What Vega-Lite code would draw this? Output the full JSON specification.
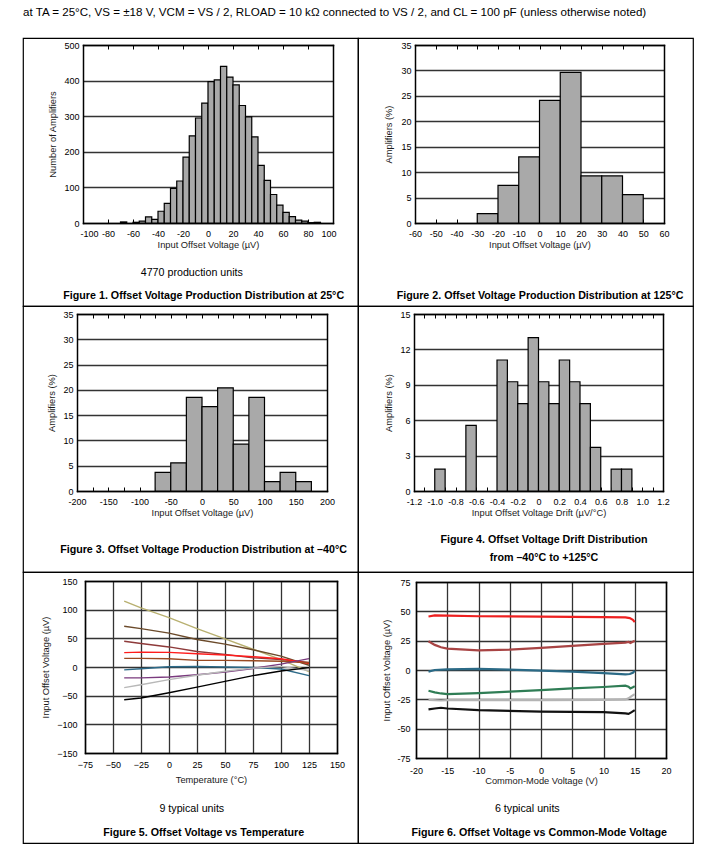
{
  "$schema": "https://vega.github.io/schema/vega-lite/v6.json",
  "padding": {"left": 22, "top": 7, "right": 0, "bottom": 0},
  "title": {"text": "at TA = 25°C, VS = ±18 V, VCM = VS / 2, RLOAD = 10 kΩ connected to VS / 2, and CL = 100 pF (unless otherwise noted)", "anchor": "start", "frame": "group", "offset": 18.5, "fontSize": 11.6, "fontWeight": "normal", "font": "Liberation Sans", "color": "#000"},
  "datasets": {
    "p1": [
      {"lo": -70, "hi": -65, "v": 3}, {"lo": -60, "hi": -55, "v": 2}, {"lo": -55, "hi": -50, "v": 5}, {"lo": -50, "hi": -45, "v": 17},
      {"lo": -45, "hi": -40, "v": 10}, {"lo": -40, "hi": -35, "v": 33}, {"lo": -35, "hi": -30, "v": 55}, {"lo": -30, "hi": -25, "v": 97},
      {"lo": -25, "hi": -20, "v": 118}, {"lo": -20, "hi": -15, "v": 185}, {"lo": -15, "hi": -10, "v": 245}, {"lo": -10, "hi": -5, "v": 295},
      {"lo": -5, "hi": 0, "v": 337}, {"lo": 0, "hi": 5, "v": 397}, {"lo": 5, "hi": 10, "v": 402}, {"lo": 10, "hi": 15, "v": 440},
      {"lo": 15, "hi": 20, "v": 410}, {"lo": 20, "hi": 25, "v": 388}, {"lo": 25, "hi": 30, "v": 330}, {"lo": 30, "hi": 35, "v": 298},
      {"lo": 35, "hi": 40, "v": 242}, {"lo": 40, "hi": 45, "v": 162}, {"lo": 45, "hi": 50, "v": 120}, {"lo": 50, "hi": 55, "v": 80},
      {"lo": 55, "hi": 60, "v": 50}, {"lo": 60, "hi": 65, "v": 30}, {"lo": 65, "hi": 70, "v": 18}, {"lo": 70, "hi": 75, "v": 8},
      {"lo": 75, "hi": 80, "v": 5}, {"lo": 80, "hi": 85, "v": 1}, {"lo": 85, "hi": 90, "v": 2}
    ],
    "p2": [
      {"lo": -30, "hi": -20, "v": 1.85}, {"lo": -20, "hi": -10, "v": 7.4}, {"lo": -10, "hi": 0, "v": 13}, {"lo": 0, "hi": 10, "v": 24.1},
      {"lo": 10, "hi": 20, "v": 29.6}, {"lo": 20, "hi": 30, "v": 9.26}, {"lo": 30, "hi": 40, "v": 9.26}, {"lo": 40, "hi": 50, "v": 5.56}
    ],
    "p3": [
      {"lo": -75, "hi": -50, "v": 3.7}, {"lo": -50, "hi": -25, "v": 5.56}, {"lo": -25, "hi": 0, "v": 18.5}, {"lo": 0, "hi": 25, "v": 16.7},
      {"lo": 25, "hi": 50, "v": 20.4}, {"lo": 50, "hi": 75, "v": 9.26}, {"lo": 75, "hi": 100, "v": 18.5}, {"lo": 100, "hi": 125, "v": 1.85},
      {"lo": 125, "hi": 150, "v": 3.7}, {"lo": 150, "hi": 175, "v": 1.85}
    ],
    "p4": [
      {"lo": -1.0, "hi": -0.9, "v": 1.85}, {"lo": -0.7, "hi": -0.6, "v": 5.56}, {"lo": -0.4, "hi": -0.3, "v": 11.1}, {"lo": -0.3, "hi": -0.2, "v": 9.26},
      {"lo": -0.2, "hi": -0.1, "v": 7.4}, {"lo": -0.1, "hi": 0, "v": 13}, {"lo": 0, "hi": 0.1, "v": 9.26}, {"lo": 0.1, "hi": 0.2, "v": 7.4},
      {"lo": 0.2, "hi": 0.3, "v": 11.1}, {"lo": 0.3, "hi": 0.4, "v": 9.26}, {"lo": 0.4, "hi": 0.5, "v": 7.4}, {"lo": 0.5, "hi": 0.6, "v": 3.7},
      {"lo": 0.7, "hi": 0.8, "v": 1.85}, {"lo": 0.8, "hi": 0.9, "v": 1.85}
    ],
    "p5": [
      {"u": "u1", "t": -40, "v": 115}, {"u": "u1", "t": -25, "v": 103}, {"u": "u1", "t": 0, "v": 86}, {"u": "u1", "t": 25, "v": 67}, {"u": "u1", "t": 50, "v": 49}, {"u": "u1", "t": 75, "v": 31}, {"u": "u1", "t": 100, "v": 13}, {"u": "u1", "t": 125, "v": -8},
      {"u": "u2", "t": -40, "v": 71}, {"u": "u2", "t": -25, "v": 67}, {"u": "u2", "t": 0, "v": 59}, {"u": "u2", "t": 25, "v": 48}, {"u": "u2", "t": 50, "v": 40}, {"u": "u2", "t": 75, "v": 30}, {"u": "u2", "t": 100, "v": 19}, {"u": "u2", "t": 125, "v": 3},
      {"u": "u3", "t": -40, "v": 45}, {"u": "u3", "t": -25, "v": 41}, {"u": "u3", "t": 0, "v": 35}, {"u": "u3", "t": 25, "v": 27}, {"u": "u3", "t": 50, "v": 22}, {"u": "u3", "t": 75, "v": 16}, {"u": "u3", "t": 100, "v": 13}, {"u": "u3", "t": 125, "v": 8},
      {"u": "u4", "t": -40, "v": 25}, {"u": "u4", "t": -25, "v": 26}, {"u": "u4", "t": 0, "v": 25.5}, {"u": "u4", "t": 25, "v": 23}, {"u": "u4", "t": 50, "v": 21}, {"u": "u4", "t": 75, "v": 18}, {"u": "u4", "t": 100, "v": 14.5}, {"u": "u4", "t": 125, "v": 6},
      {"u": "u5", "t": -40, "v": 15}, {"u": "u5", "t": -25, "v": 15}, {"u": "u5", "t": 0, "v": 14.5}, {"u": "u5", "t": 25, "v": 11.6}, {"u": "u5", "t": 50, "v": 11.5}, {"u": "u5", "t": 75, "v": 11}, {"u": "u5", "t": 100, "v": 10}, {"u": "u5", "t": 125, "v": 7.5},
      {"u": "u6", "t": -40, "v": -5}, {"u": "u6", "t": -25, "v": -3}, {"u": "u6", "t": 0, "v": 0.5}, {"u": "u6", "t": 25, "v": 1}, {"u": "u6", "t": 50, "v": 0}, {"u": "u6", "t": 75, "v": -1}, {"u": "u6", "t": 100, "v": -3.5}, {"u": "u6", "t": 125, "v": -15},
      {"u": "u7", "t": -40, "v": -19}, {"u": "u7", "t": -25, "v": -19}, {"u": "u7", "t": 0, "v": -17.5}, {"u": "u7", "t": 25, "v": -13.5}, {"u": "u7", "t": 50, "v": -9}, {"u": "u7", "t": 75, "v": -2.5}, {"u": "u7", "t": 100, "v": 5}, {"u": "u7", "t": 125, "v": 14.5},
      {"u": "u8", "t": -40, "v": -36}, {"u": "u8", "t": -25, "v": -31}, {"u": "u8", "t": 0, "v": -22}, {"u": "u8", "t": 25, "v": -14.5}, {"u": "u8", "t": 50, "v": -7.5}, {"u": "u8", "t": 75, "v": -2}, {"u": "u8", "t": 100, "v": 1}, {"u": "u8", "t": 125, "v": -6},
      {"u": "u9", "t": -40, "v": -57}, {"u": "u9", "t": -25, "v": -54}, {"u": "u9", "t": 0, "v": -45}, {"u": "u9", "t": 25, "v": -35}, {"u": "u9", "t": 50, "v": -25}, {"u": "u9", "t": 75, "v": -15}, {"u": "u9", "t": 100, "v": -7}, {"u": "u9", "t": 125, "v": -1}
    ],
    "p6": [
      {"u": "a", "c": -18, "v": 45.6}, {"u": "a", "c": -17, "v": 46.5}, {"u": "a", "c": -15, "v": 46.3}, {"u": "a", "c": -10, "v": 45.8}, {"u": "a", "c": 0, "v": 45.5}, {"u": "a", "c": 10, "v": 45}, {"u": "a", "c": 13.5, "v": 44.8}, {"u": "a", "c": 14.2, "v": 44.2}, {"u": "a", "c": 14.7, "v": 42.8}, {"u": "a", "c": 15, "v": 40.8},
      {"u": "b", "c": -18, "v": 24.5}, {"u": "b", "c": -17, "v": 21.4}, {"u": "b", "c": -16, "v": 19.4}, {"u": "b", "c": -15, "v": 18.2}, {"u": "b", "c": -10, "v": 16.8}, {"u": "b", "c": -5, "v": 17.4}, {"u": "b", "c": 0, "v": 18.8}, {"u": "b", "c": 5, "v": 20.5}, {"u": "b", "c": 10, "v": 22.2}, {"u": "b", "c": 13.5, "v": 23.4}, {"u": "b", "c": 14, "v": 24}, {"u": "b", "c": 14.3, "v": 23.1}, {"u": "b", "c": 15, "v": 25},
      {"u": "c", "c": -18, "v": -1.4}, {"u": "c", "c": -17, "v": 0}, {"u": "c", "c": -15, "v": 0.6}, {"u": "c", "c": -10, "v": 0.9}, {"u": "c", "c": -5, "v": 0.3}, {"u": "c", "c": 0, "v": -0.6}, {"u": "c", "c": 5, "v": -1.4}, {"u": "c", "c": 10, "v": -2.6}, {"u": "c", "c": 13.5, "v": -3.7}, {"u": "c", "c": 14.2, "v": -3.4}, {"u": "c", "c": 14.7, "v": -2.3}, {"u": "c", "c": 15, "v": -0.6},
      {"u": "d", "c": -18, "v": -17.7}, {"u": "d", "c": -17, "v": -19.1}, {"u": "d", "c": -16, "v": -20}, {"u": "d", "c": -15, "v": -20.5}, {"u": "d", "c": -10, "v": -19.7}, {"u": "d", "c": -5, "v": -18.5}, {"u": "d", "c": 0, "v": -17.1}, {"u": "d", "c": 5, "v": -15.7}, {"u": "d", "c": 10, "v": -14.5}, {"u": "d", "c": 13.5, "v": -13.4}, {"u": "d", "c": 14, "v": -14.3}, {"u": "d", "c": 14.3, "v": -15.7}, {"u": "d", "c": 14.7, "v": -14.8}, {"u": "d", "c": 15, "v": -13.7},
      {"u": "e", "c": -18, "v": -25.4}, {"u": "e", "c": -16, "v": -26}, {"u": "e", "c": -15, "v": -25.7}, {"u": "e", "c": 0, "v": -25.7}, {"u": "e", "c": 10, "v": -25.4}, {"u": "e", "c": 13.5, "v": -25.1}, {"u": "e", "c": 14, "v": -24.2}, {"u": "e", "c": 14.5, "v": -22.2}, {"u": "e", "c": 15, "v": -20.5},
      {"u": "f", "c": -18, "v": -33.6}, {"u": "f", "c": -17, "v": -32.8}, {"u": "f", "c": -16, "v": -32.2}, {"u": "f", "c": -15, "v": -32.8}, {"u": "f", "c": -10, "v": -34.2}, {"u": "f", "c": 0, "v": -35.4}, {"u": "f", "c": 10, "v": -35.9}, {"u": "f", "c": 13.5, "v": -37}, {"u": "f", "c": 14, "v": -37.4}, {"u": "f", "c": 14.5, "v": -35.9}, {"u": "f", "c": 15, "v": -34.2}
    ]
  },
  "concat": [
    {
      "width": 335, "height": 268,
      "data": {"name": "p1"},
      "title": {"text": "4770 production units\u00a0\u00a0\u00a0\u00a0\u00a0\u00a0\u00a0\u00a0\u200b", "subtitle": "Figure 1. Offset Voltage Production Distribution at 25°C", "orient": "bottom", "anchor": "middle", "frame": "group", "offset": -38.3, "dx": 13.2, "fontSize": 10.7, "fontWeight": "normal", "subtitleFontSize": 10.7, "subtitleFontWeight": "bold", "subtitlePadding": 13},
      "layer": [
        {"mark": {"type": "rect", "fill": "#a9a9a9", "stroke": "#000", "strokeWidth": 1.2},
         "encoding": {
           "x": {"field": "lo", "type": "quantitative", "scale": {"domain": [-100, 100], "range": [60, 310], "nice": false, "zero": false},
                 "axis": {"orient": "bottom", "offset": -83, "values": [-100, -80, -60, -40, -20, 0, 20, 40, 60, 80, 100], "tickSize": -4, "labelPadding": 10.4, "labelExpr": "'' + datum.value", "labelFlush": true, "labelFlushOffset": 3, "title": "Input Offset Voltage (µV)", "titlePadding": 1.6, "grid": false}},
           "x2": {"field": "hi"},
           "y": {"field": "v", "type": "quantitative", "scale": {"domain": [0, 500], "range": [185, 7], "nice": false, "zero": false},
                 "axis": {"orient": "left", "offset": -60, "values": [0, 100, 200, 300, 400, 500], "tickSize": 0, "labelPadding": 4, "title": "Number of Amplifiers", "titlePadding": 6, "grid": true}},
           "y2": {"datum": 0}
         }},
        {"mark": {"type": "rect", "opacity": 0},
         "encoding": {
           "x": {"field": "lo", "type": "quantitative", "scale": {"domain": [-100, 100], "range": [60, 310], "nice": false, "zero": false},
                 "axis": {"orient": "top", "offset": -7, "values": [-100, -80, -60, -40, -20, 0, 20, 40, 60, 80, 100], "tickSize": -4, "labels": false, "title": null, "grid": false}},
           "x2": {"field": "hi"},
           "y": {"field": "v", "type": "quantitative", "scale": {"domain": [0, 500], "range": [185, 7], "nice": false, "zero": false},
                 "axis": {"orient": "right", "offset": -25, "ticks": false, "labels": false, "title": null, "grid": false}},
           "y2": {"datum": 0}
         }}
      ],
      "resolve": {"axis": {"x": "independent", "y": "independent"}}
    },
    {
      "width": 335, "height": 268,
      "data": {"name": "p2"},
      "title": {"text": "Figure 2. Offset Voltage Production Distribution at 125°C", "orient": "bottom", "anchor": "middle", "frame": "group", "offset": -14.6, "dx": 14.5, "fontSize": 10.7, "fontWeight": "bold"},
      "layer": [
        {"mark": {"type": "rect", "fill": "#a9a9a9", "stroke": "#000", "strokeWidth": 1.2},
         "encoding": {
           "x": {"field": "lo", "type": "quantitative", "scale": {"domain": [-60, 60], "range": [57, 306], "nice": false, "zero": false},
                 "axis": {"orient": "bottom", "offset": -83, "values": [-60, -50, -40, -30, -20, -10, 0, 10, 20, 30, 40, 50, 60], "tickSize": -4, "labelPadding": 10.4, "labelExpr": "'' + datum.value", "title": "Input Offset Voltage (µV)", "titlePadding": 1.6, "grid": false}},
           "x2": {"field": "hi"},
           "y": {"field": "v", "type": "quantitative", "scale": {"domain": [0, 35], "range": [185, 7], "nice": false, "zero": false},
                 "axis": {"orient": "left", "offset": -57, "values": [0, 5, 10, 15, 20, 25, 30, 35], "tickSize": 0, "labelPadding": 4, "title": "Amplifiers (%)", "titlePadding": 7.4, "grid": true}},
           "y2": {"datum": 0}
         }},
        {"mark": {"type": "rect", "opacity": 0},
         "encoding": {
           "x": {"field": "lo", "type": "quantitative", "scale": {"domain": [-60, 60], "range": [57, 306], "nice": false, "zero": false},
                 "axis": {"orient": "top", "offset": -7, "values": [-60, -50, -40, -30, -20, -10, 0, 10, 20, 30, 40, 50, 60], "tickSize": -4, "labels": false, "title": null, "grid": false}},
           "x2": {"field": "hi"},
           "y": {"field": "v", "type": "quantitative", "scale": {"domain": [0, 35], "range": [185, 7], "nice": false, "zero": false},
                 "axis": {"orient": "right", "offset": -29, "ticks": false, "labels": false, "title": null, "grid": false}},
           "y2": {"datum": 0}
         }}
      ],
      "resolve": {"axis": {"x": "independent", "y": "independent"}}
    },
    {
      "width": 335, "height": 266,
      "data": {"name": "p3"},
      "title": {"text": "Figure 3. Offset Voltage Production Distribution at –40°C", "orient": "bottom", "anchor": "middle", "frame": "group", "offset": -26.6, "dx": 13, "fontSize": 10.7, "fontWeight": "bold"},
      "layer": [
        {"mark": {"type": "rect", "fill": "#a9a9a9", "stroke": "#000", "strokeWidth": 1.2},
         "encoding": {
           "x": {"field": "lo", "type": "quantitative", "scale": {"domain": [-200, 200], "range": [54, 304], "nice": false, "zero": false},
                 "axis": {"orient": "bottom", "offset": -81, "values": [-200, -175, -150, -125, -100, -75, -50, -25, 0, 25, 50, 75, 100, 125, 150, 175, 200], "tickSize": -4, "labelPadding": 10.4, "labelExpr": "datum.value % 50 == 0 ? '' + datum.value : ''", "title": "Input Offset Voltage (µV)", "titlePadding": 1.6, "grid": false}},
           "x2": {"field": "hi"},
           "y": {"field": "v", "type": "quantitative", "scale": {"domain": [0, 35], "range": [185, 8], "nice": false, "zero": false},
                 "axis": {"orient": "left", "offset": -54, "values": [0, 5, 10, 15, 20, 25, 30, 35], "tickSize": 0, "labelPadding": 4, "title": "Amplifiers (%)", "titlePadding": 6, "grid": true}},
           "y2": {"datum": 0}
         }},
        {"mark": {"type": "rect", "opacity": 0},
         "encoding": {
           "x": {"field": "lo", "type": "quantitative", "scale": {"domain": [-200, 200], "range": [54, 304], "nice": false, "zero": false},
                 "axis": {"orient": "top", "offset": -8, "values": [-200, -175, -150, -125, -100, -75, -50, -25, 0, 25, 50, 75, 100, 125, 150, 175, 200], "tickSize": -4, "labels": false, "title": null, "grid": false}},
           "x2": {"field": "hi"},
           "y": {"field": "v", "type": "quantitative", "scale": {"domain": [0, 35], "range": [185, 8], "nice": false, "zero": false},
                 "axis": {"orient": "right", "offset": -31, "ticks": false, "labels": false, "title": null, "grid": false}},
           "y2": {"datum": 0}
         }}
      ],
      "resolve": {"axis": {"x": "independent", "y": "independent"}}
    },
    {
      "width": 335, "height": 266,
      "data": {"name": "p4"},
      "title": {"text": ["Figure 4. Offset Voltage Drift Distribution", "from –40°C to +125°C"], "orient": "bottom", "anchor": "middle", "frame": "group", "offset": -36.6, "dx": 18.5, "fontSize": 10.7, "fontWeight": "bold", "lineHeight": 17.3},
      "layer": [
        {"mark": {"type": "rect", "fill": "#a9a9a9", "stroke": "#000", "strokeWidth": 1.2},
         "encoding": {
           "x": {"field": "lo", "type": "quantitative", "scale": {"domain": [-1.2, 1.2], "range": [56, 305], "nice": false, "zero": false},
                 "axis": {"orient": "bottom", "offset": -81, "values": [-1.2, -1.1, -1, -0.9, -0.8, -0.7, -0.6, -0.5, -0.4, -0.3, -0.2, -0.1, 0, 0.1, 0.2, 0.3, 0.4, 0.5, 0.6, 0.7, 0.8, 0.9, 1, 1.1, 1.2], "tickSize": -4, "labelPadding": 10.4, "labelExpr": "abs(round(datum.value * 10)) % 2 == 0 ? (datum.value == 0 ? '0' : replace(format(datum.value, '.1f'), '−', '-')) : ''", "title": "Input Offset Voltage Drift (µV/°C)", "titlePadding": 1.6, "grid": false}},
           "x2": {"field": "hi"},
           "y": {"field": "v", "type": "quantitative", "scale": {"domain": [0, 15], "range": [185, 8], "nice": false, "zero": false},
                 "axis": {"orient": "left", "offset": -56, "values": [0, 3, 6, 9, 12, 15], "tickSize": 0, "labelPadding": 4, "title": "Amplifiers (%)", "titlePadding": 6.4, "grid": true}},
           "y2": {"datum": 0}
         }},
        {"mark": {"type": "rect", "opacity": 0},
         "encoding": {
           "x": {"field": "lo", "type": "quantitative", "scale": {"domain": [-1.2, 1.2], "range": [56, 305], "nice": false, "zero": false},
                 "axis": {"orient": "top", "offset": -8, "values": [-1.2, -1.1, -1, -0.9, -0.8, -0.7, -0.6, -0.5, -0.4, -0.3, -0.2, -0.1, 0, 0.1, 0.2, 0.3, 0.4, 0.5, 0.6, 0.7, 0.8, 0.9, 1, 1.1, 1.2], "tickSize": -4, "labels": false, "title": null, "grid": false}},
           "x2": {"field": "hi"},
           "y": {"field": "v", "type": "quantitative", "scale": {"domain": [0, 15], "range": [185, 8], "nice": false, "zero": false},
                 "axis": {"orient": "right", "offset": -30, "ticks": false, "labels": false, "title": null, "grid": false}},
           "y2": {"datum": 0}
         }}
      ],
      "resolve": {"axis": {"x": "independent", "y": "independent"}}
    },
    {
      "width": 335, "height": 271,
      "data": {"name": "p5"},
      "title": {"text": "9 typical units\u00a0\u00a0\u00a0\u00a0\u00a0\u00a0\u00a0\u00a0\u200b", "subtitle": "Figure 5. Offset Voltage vs Temperature", "orient": "bottom", "anchor": "middle", "frame": "group", "offset": -38.6, "dx": 13.2, "fontSize": 10.7, "fontWeight": "normal", "subtitleFontSize": 10.7, "subtitleFontWeight": "bold", "subtitlePadding": 13.3},
      "layer": [
        {"mark": {"type": "line", "strokeWidth": 1.4},
         "encoding": {
           "x": {"field": "t", "type": "quantitative", "scale": {"domain": [-75, 150], "range": [62, 314], "nice": false, "zero": false},
                 "axis": {"orient": "bottom", "offset": -90, "values": [-75, -50, -25, 0, 25, 50, 75, 100, 125, 150], "tickSize": 0, "labelPadding": 7, "title": "Temperature (°C)", "titlePadding": 6, "grid": false}},
           "y": {"field": "v", "type": "quantitative", "scale": {"domain": [-150, 150], "range": [181, 9], "nice": false, "zero": false},
                 "axis": {"orient": "left", "offset": -62, "values": [-150, -100, -50, 0, 50, 100, 150], "tickSize": 0, "labelPadding": 8, "title": "Input Offset Voltage (µV)", "titlePadding": 6.4, "grid": true}},
           "color": {"field": "u", "type": "nominal", "legend": null,
                     "scale": {"domain": ["u1", "u2", "u3", "u4", "u5", "u6", "u7", "u8", "u9"], "range": ["#b8b070", "#6b4a2a", "#8e3a3a", "#ff1c1c", "#9a4a22", "#2d6a88", "#7a3a7e", "#b8b8b8", "#000000"]}}
         }},
        {"mark": {"type": "point", "opacity": 0},
         "encoding": {
           "x": {"field": "t", "type": "quantitative", "scale": {"domain": [-75, 150], "range": [62, 314], "nice": false, "zero": false},
                 "axis": {"orient": "top", "offset": -9, "values": [-75, -50, -25, 0, 25, 50, 75, 100, 125, 150], "ticks": false, "labels": false, "title": null, "grid": true}},
           "y": {"field": "v", "type": "quantitative", "scale": {"domain": [-150, 150], "range": [181, 9], "nice": false, "zero": false},
                 "axis": {"orient": "right", "offset": -21, "ticks": false, "labels": false, "title": null, "grid": false}}
         }}
      ],
      "resolve": {"axis": {"x": "independent", "y": "independent"}}
    },
    {
      "width": 335, "height": 271,
      "data": {"name": "p6"},
      "title": {"text": "6 typical units\u00a0\u00a0\u00a0\u00a0\u00a0\u00a0\u00a0\u00a0\u200b", "subtitle": "Figure 6. Offset Voltage vs Common-Mode Voltage", "orient": "bottom", "anchor": "middle", "frame": "group", "offset": -38.6, "dx": 13.7, "fontSize": 10.7, "fontWeight": "normal", "subtitleFontSize": 10.7, "subtitleFontWeight": "bold", "subtitlePadding": 13.3},
      "layer": [
        {"mark": {"type": "line", "strokeWidth": 2.2},
         "encoding": {
           "x": {"field": "c", "type": "quantitative", "scale": {"domain": [-20, 20], "range": [58, 308], "nice": false, "zero": false},
                 "axis": {"orient": "bottom", "offset": -85, "values": [-20, -15, -10, -5, 0, 5, 10, 15, 20], "tickSize": 0, "labelPadding": 8, "labelExpr": "'' + datum.value", "title": "Common-Mode Voltage (V)", "titlePadding": 1, "grid": false}},
           "y": {"field": "v", "type": "quantitative", "scale": {"domain": [-75, 75], "range": [186, 10], "nice": false, "zero": false},
                 "axis": {"orient": "left", "offset": -58, "values": [-75, -50, -25, 0, 25, 50, 75], "tickSize": 0, "labelPadding": 6, "labelExpr": "'' + datum.value", "title": "Input Offset Voltage (µV)", "titlePadding": 5.7, "grid": true}},
           "color": {"field": "u", "type": "nominal", "legend": null,
                     "scale": {"domain": ["a", "b", "c", "d", "e", "f"], "range": ["#ee2020", "#a84444", "#2b6a86", "#2f7d55", "#b4b4b4", "#111111"]}}
         }},
        {"mark": {"type": "point", "opacity": 0},
         "encoding": {
           "x": {"field": "c", "type": "quantitative", "scale": {"domain": [-20, 20], "range": [58, 308], "nice": false, "zero": false},
                 "axis": {"orient": "top", "offset": -10, "values": [-20, -15, -10, -5, 0, 5, 10, 15, 20], "ticks": false, "labels": false, "title": null, "grid": true}},
           "y": {"field": "v", "type": "quantitative", "scale": {"domain": [-75, 75], "range": [186, 10], "nice": false, "zero": false},
                 "axis": {"orient": "right", "offset": -27, "ticks": false, "labels": false, "title": null, "grid": false}}
         }}
      ],
      "resolve": {"axis": {"x": "independent", "y": "independent"}}
    }
  ],
  "columns": 2,
  "spacing": 0,
  "bounds": "flush",
  "align": "each",
  "resolve": {"scale": {"color": "independent"}},
  "config": {
    "font": "Liberation Sans",
    "view": {"stroke": "#000", "strokeWidth": 1.2},
    "axis": {"labelFont": "Liberation Sans", "titleFont": "Liberation Sans", "labelFontSize": 9, "titleFontSize": 9.3, "titleFontWeight": "normal", "labelColor": "#000", "titleColor": "#1a1a1a", "domainColor": "#000", "domainWidth": 1.5, "domainCap": "square", "tickColor": "#000", "tickWidth": 1, "gridColor": "#333333", "gridWidth": 1.3, "gridOpacity": 1, "labelFlush": false, "labelOverlap": false},
    "title": {"font": "Liberation Sans", "color": "#000", "subtitleFont": "Liberation Sans", "subtitleColor": "#000"}
  }
}
